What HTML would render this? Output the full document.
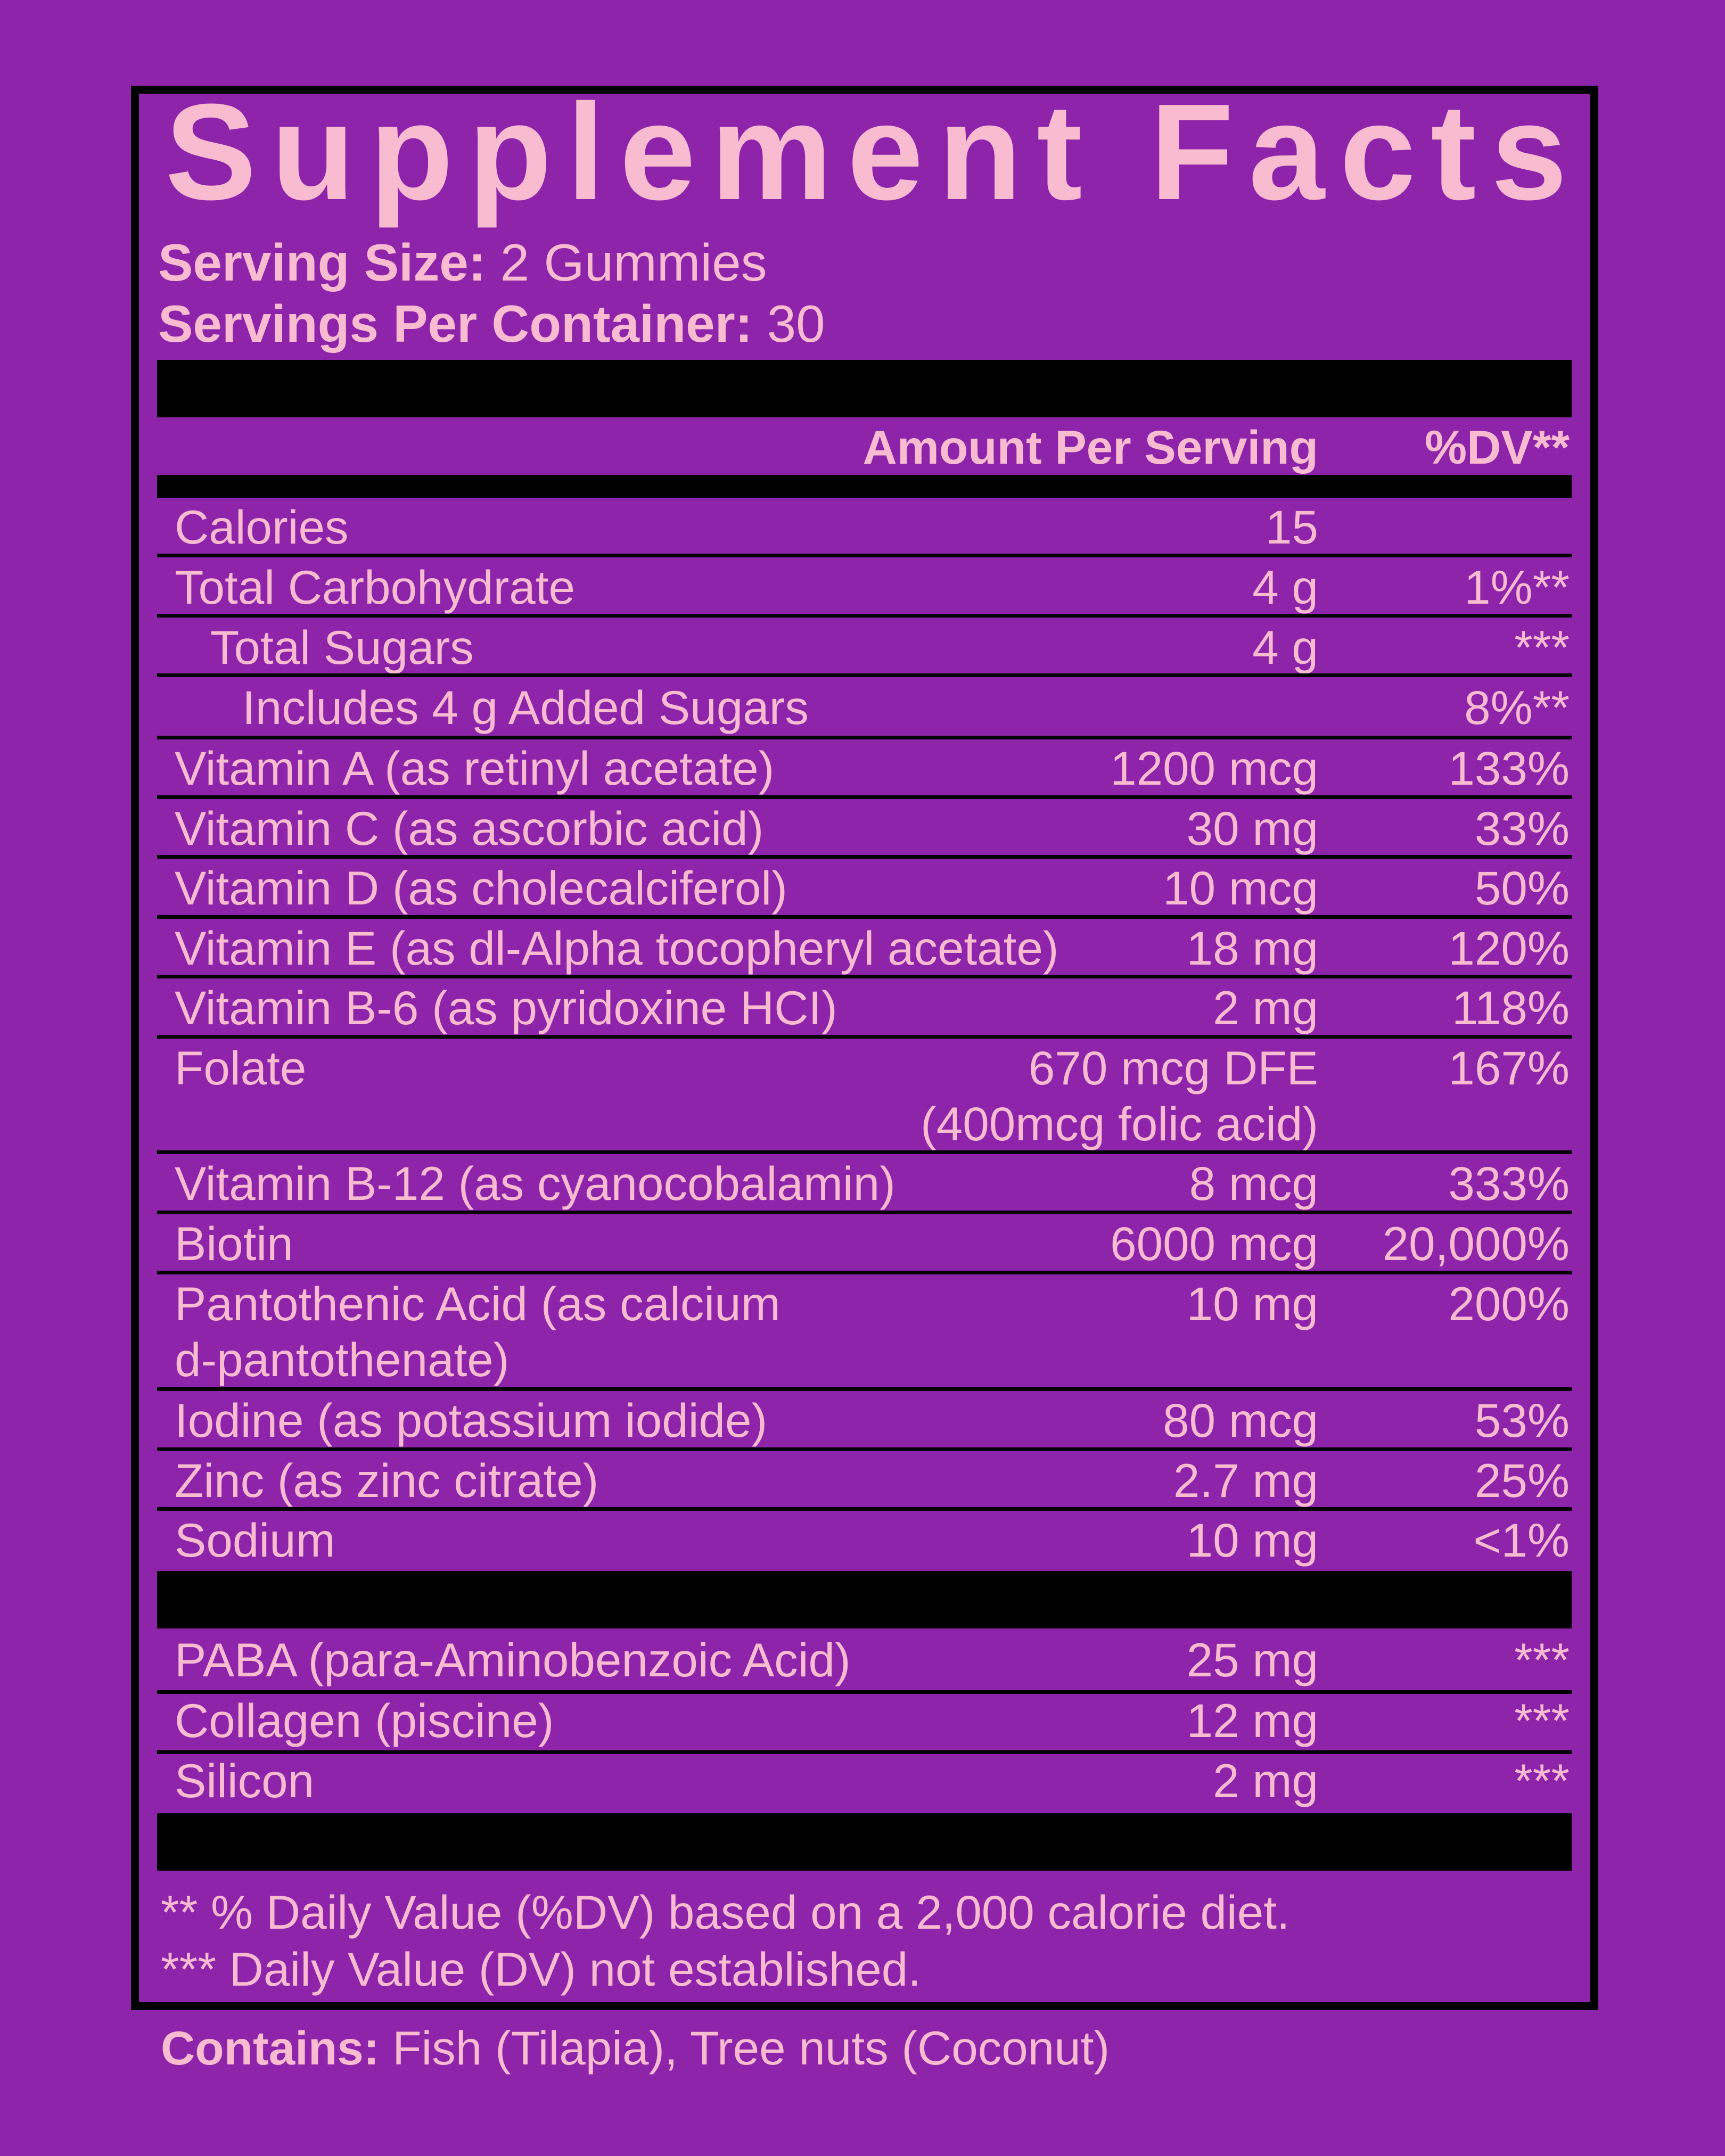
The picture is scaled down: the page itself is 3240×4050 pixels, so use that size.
<!DOCTYPE html>
<html><head><meta charset="utf-8"><style>
*{margin:0;padding:0;box-sizing:border-box}
body{width:3240px;height:4050px;background:#8E24AA;position:relative;overflow:hidden;font-family:"Liberation Sans",Arial,sans-serif;color:#F8BBD0}
.box{position:absolute;left:246px;top:161px;width:2756px;height:3615px;border:15px solid #000}
.t{position:absolute;white-space:nowrap;line-height:1}
.bar{position:absolute;left:295px;width:2657px;background:#000}
.ln{position:absolute;left:295px;width:2657px;height:7px;background:#000}
.r{font-size:89px}
.l{left:328px}
.a{right:764px;text-align:right}
.d{right:292px;text-align:right}
b{font-weight:bold}
</style></head><body>
<div class="box"></div>
<div class="t" style="left:310px;top:157px;font-size:257px;font-weight:bold;letter-spacing:28px">Supplement Facts</div>
<div class="t" style="left:297px;top:444px;font-size:98px"><b>Serving Size:</b> 2 Gummies</div>
<div class="t" style="left:297px;top:559px;font-size:98px"><b>Servings Per Container:</b> 30</div>
<div class="bar" style="top:676px;height:108px"></div>
<div class="t r a" style="top:796px;font-weight:bold">Amount Per Serving</div>
<div class="t r d" style="top:796px;font-weight:bold">%DV**</div>
<div class="bar" style="top:892px;height:43px"></div>

<div class="t r l" style="top:946px">Calories</div><div class="t r a" style="top:946px">15</div>
<div class="ln" style="top:1040px"></div>
<div class="t r l" style="top:1059px">Total Carbohydrate</div><div class="t r a" style="top:1059px">4 g</div><div class="t r d" style="top:1059px">1%**</div>
<div class="ln" style="top:1153px"></div>
<div class="t r" style="left:395px;top:1172px">Total Sugars</div><div class="t r a" style="top:1172px">4 g</div><div class="t r d" style="top:1172px">***</div>
<div class="ln" style="top:1265px"></div>
<div class="t r" style="left:455px;top:1285px">Includes 4 g Added Sugars</div><div class="t r d" style="top:1285px">8%**</div>
<div class="ln" style="top:1382px"></div>
<div class="t r l" style="top:1399px">Vitamin A (as retinyl acetate)</div><div class="t r a" style="top:1399px">1200 mcg</div><div class="t r d" style="top:1399px">133%</div>
<div class="ln" style="top:1494px"></div>
<div class="t r l" style="top:1512px">Vitamin C (as ascorbic acid)</div><div class="t r a" style="top:1512px">30 mg</div><div class="t r d" style="top:1512px">33%</div>
<div class="ln" style="top:1606px"></div>
<div class="t r l" style="top:1624px">Vitamin D (as cholecalciferol)</div><div class="t r a" style="top:1624px">10 mcg</div><div class="t r d" style="top:1624px">50%</div>
<div class="ln" style="top:1719px"></div>
<div class="t r l" style="top:1737px">Vitamin E (as dl-Alpha tocopheryl acetate)</div><div class="t r a" style="top:1737px">18 mg</div><div class="t r d" style="top:1737px">120%</div>
<div class="ln" style="top:1831px"></div>
<div class="t r l" style="top:1849px">Vitamin B-6 (as pyridoxine HCI)</div><div class="t r a" style="top:1849px">2 mg</div><div class="t r d" style="top:1849px">118%</div>
<div class="ln" style="top:1944px"></div>
<div class="t r l" style="top:1962px">Folate</div><div class="t r a" style="top:1962px">670 mcg DFE</div><div class="t r a" style="top:2067px">(400mcg folic acid)</div><div class="t r d" style="top:1962px">167%</div>
<div class="ln" style="top:2161px"></div>
<div class="t r l" style="top:2179px">Vitamin B-12 (as cyanocobalamin)</div><div class="t r a" style="top:2179px">8 mcg</div><div class="t r d" style="top:2179px">333%</div>
<div class="ln" style="top:2274px"></div>
<div class="t r l" style="top:2292px">Biotin</div><div class="t r a" style="top:2292px">6000 mcg</div><div class="t r d" style="top:2292px">20,000%</div>
<div class="ln" style="top:2387px"></div>
<div class="t r l" style="top:2405px">Pantothenic Acid (as calcium</div><div class="t r l" style="top:2510px">d-pantothenate)</div><div class="t r a" style="top:2405px">10 mg</div><div class="t r d" style="top:2405px">200%</div>
<div class="ln" style="top:2606px"></div>
<div class="t r l" style="top:2624px">Iodine (as potassium iodide)</div><div class="t r a" style="top:2624px">80 mcg</div><div class="t r d" style="top:2624px">53%</div>
<div class="ln" style="top:2719px"></div>
<div class="t r l" style="top:2737px">Zinc (as zinc citrate)</div><div class="t r a" style="top:2737px">2.7 mg</div><div class="t r d" style="top:2737px">25%</div>
<div class="ln" style="top:2831px"></div>
<div class="t r l" style="top:2849px">Sodium</div><div class="t r a" style="top:2849px">10 mg</div><div class="t r d" style="top:2849px">&lt;1%</div>
<div class="bar" style="top:2951px;height:108px"></div>
<div class="t r l" style="top:3074px">PABA (para-Aminobenzoic Acid)</div><div class="t r a" style="top:3074px">25 mg</div><div class="t r d" style="top:3074px">***</div>
<div class="ln" style="top:3175px"></div>
<div class="t r l" style="top:3188px">Collagen (piscine)</div><div class="t r a" style="top:3188px">12 mg</div><div class="t r d" style="top:3188px">***</div>
<div class="ln" style="top:3288px"></div>
<div class="t r l" style="top:3301px">Silicon</div><div class="t r a" style="top:3301px">2 mg</div><div class="t r d" style="top:3301px">***</div>
<div class="bar" style="top:3406px;height:108px"></div>
<div class="t r" style="left:302px;top:3548px">** % Daily Value (%DV) based on a 2,000 calorie diet.</div>
<div class="t r" style="left:302px;top:3655px">*** Daily Value (DV) not established.</div>
<div class="t r" style="left:302px;top:3803px"><b>Contains:</b> Fish (Tilapia), Tree nuts (Coconut)</div>
</body></html>
